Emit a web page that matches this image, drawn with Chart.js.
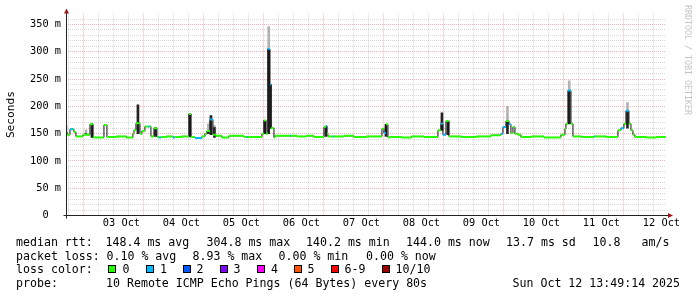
<!DOCTYPE html>
<html>
<head>
<meta charset="utf-8">
<script src="https://cdn.jsdelivr.net/npm/chart.js@4.4.1/dist/chart.umd.min.js"></script>
<style>
  body { margin: 0; background: #fff; }
  #wrap { position: relative; width: 697px; height: 297px; font-family: "DejaVu Sans Mono", monospace; }
  #wrap canvas { position: absolute; left: 0; top: 0; }
  .t { position: absolute; font-size: 11.6px; line-height: 14px; white-space: pre; color: #000; }
  .box { position: absolute; top: 265px; width: 8px; height: 8px; box-sizing: border-box; border: 1px solid #000; }
  #credit { position: absolute; left: 683px; top: 5px; writing-mode: vertical-rl; font-size: 8.3px; line-height: 10px; color: #c4c4c4; white-space: pre; }
</style>
</head>
<body>
<div id="wrap">
  <canvas id="rtt" width="697" height="297"></canvas>

  <div class="t" style="left:16px;top:234.7px">median rtt:</div>
  <div class="t" style="left:105.5px;top:234.7px">148.4 ms avg</div>
  <div class="t" style="left:206.5px;top:234.7px">304.8 ms max</div>
  <div class="t" style="left:306px;top:234.7px">140.2 ms min</div>
  <div class="t" style="left:406px;top:234.7px">144.0 ms now</div>
  <div class="t" style="left:506px;top:234.7px">13.7 ms sd</div>
  <div class="t" style="left:592.5px;top:234.7px">10.8</div>
  <div class="t" style="left:641.5px;top:234.7px">am/s</div>

  <div class="t" style="left:16px;top:248.5px">packet loss:</div>
  <div class="t" style="left:106.5px;top:248.5px">0.10 % avg</div>
  <div class="t" style="left:192.5px;top:248.5px">8.93 % max</div>
  <div class="t" style="left:278.5px;top:248.5px">0.00 % min</div>
  <div class="t" style="left:366px;top:248.5px">0.00 % now</div>

  <div class="t" style="left:16px;top:262.3px">loss color:</div>
  <span class="box" style="left:108px;background:#26ff00"></span><div class="t" style="left:122.5px;top:262.3px">0</div>
  <span class="box" style="left:145.5px;background:#00b8ff"></span><div class="t" style="left:160px;top:262.3px">1</div>
  <span class="box" style="left:182.5px;background:#0059ff"></span><div class="t" style="left:196.5px;top:262.3px">2</div>
  <span class="box" style="left:220px;background:#7e00ff"></span><div class="t" style="left:233.5px;top:262.3px">3</div>
  <span class="box" style="left:256.5px;background:#ff00ff"></span><div class="t" style="left:271px;top:262.3px">4</div>
  <span class="box" style="left:294px;background:#ff5500"></span><div class="t" style="left:307.5px;top:262.3px">5</div>
  <span class="box" style="left:331px;background:#ff0000"></span><div class="t" style="left:344.5px;top:262.3px">6-9</div>
  <span class="box" style="left:381.5px;background:#a00000"></span><div class="t" style="left:395.5px;top:262.3px">10/10</div>

  <div class="t" style="left:16px;top:276px">probe:</div>
  <div class="t" style="left:106px;top:276px">10 Remote ICMP Echo Pings (64 Bytes) every 80s</div>
  <div class="t" style="left:512.5px;top:276px">Sun Oct 12 13:49:14 2025</div>

  <div id="credit">RRDTOOL / TOBI OETIKER</div>
</div>

<script>
// time axis: hours since 02 Oct 00:00
const startHour = 13.82;
const endHour = 253.82;

const dayLabels = ['03 Oct', '04 Oct', '05 Oct', '06 Oct', '07 Oct', '08 Oct', '09 Oct', '10 Oct', '11 Oct', '12 Oct'];
const yLabels = ['0  ', '50 m', '100 m', '150 m', '200 m', '250 m', '300 m', '350 m'];

// median rtt, one entry per change (value holds until the next hour)
const stepHours = [13.8, 14.2, 15.4, 16.6, 17.0, 17.8, 20.6, 23.4, 24.6, 29.0,
  30.2, 34.0, 38.0, 40.6, 41.0, 41.8, 43.4, 44.2, 45.4, 46.6,
  47.2, 47.8, 49.0, 50.2, 51.0, 51.8, 54.0, 56.6, 57.4, 60.0,
  63.0, 63.8, 65.4, 68.2, 69.4, 70.2, 71.4, 72.6, 73.8, 76.2,
  79.0, 85.0, 86.2, 86.6, 92.2, 93.0, 93.8, 94.6, 95.4, 95.8,
  97.0, 97.4, 103.4, 103.8, 106.2, 110.0, 113.0, 117.0, 117.8, 118.2,
  118.6, 120.6, 121.0, 125.0, 129.0, 134.0, 140.2, 141.0, 141.8, 142.6,
  143.4, 148.0, 152.0, 157.0, 162.6, 163.8, 164.6, 165.8, 167.0, 172.0,
  178.0, 183.8, 187.8, 188.6, 189.8, 191.0, 191.8, 192.6, 193.4, 194.6,
  195.8, 200.0, 205.0, 211.8, 213.4, 213.8, 214.6, 215.8, 216.6, 220.0,
  225.0, 225.4, 230.0, 234.6, 235.8, 237.0, 237.8, 239.0, 239.8, 240.6,
  241.4, 246.0, 250.0];
const medianMs = [152, 148, 158, 158, 153, 145, 148, 167, 143, 166,
  144, 145, 143, 150, 156, 169, 150, 155, 163, 163,
  163, 145, 160, 144, 143, 144, 145, 143, 144, 145,
  186, 144, 142, 145, 150, 155, 176, 148, 146, 143,
  146, 144, 144, 144, 150, 174, 150, 305, 240, 160,
  143, 146, 146, 146, 145, 146, 144, 162, 164, 150,
  145, 145, 145, 146, 144, 145, 159, 151, 167, 143,
  144, 143, 145, 144, 156, 168, 148, 173, 145, 144,
  145, 147, 150, 162, 173, 167, 151, 162, 150, 148,
  144, 145, 143, 148, 159, 168, 229, 168, 145, 144,
  145, 145, 144, 156, 160, 168, 192, 168, 156, 148,
  144, 143, 144];
const lossCount = [0, 0, 1, 0, 0, 0, 0, 0, 0, 0,
  0, 0, 0, 0, 0, 0, 0, 0, 0, 1,
  0, 0, 0, 0, 1, 0, 0, 1, 0, 0,
  0, 0, 1, 0, 0, 0, 1, 0, 0, 0,
  0, 0, 1, 0, 0, 0, 0, 1, 1, 0,
  0, 0, 1, 0, 0, 0, 0, 0, 1, 0,
  0, 1, 0, 0, 0, 0, 0, 1, 0, 0,
  0, 0, 0, 0, 0, 1, 1, 0, 0, 0,
  0, 0, 1, 1, 0, 1, 0, 0, 0, 0,
  0, 0, 0, 0, 0, 0, 1, 0, 0, 0,
  1, 0, 0, 0, 1, 0, 1, 0, 0, 0,
  0, 0, 0];

// smoke around the spikes: dense part low..high, sparse part high..top
const smokeHours = [13.9, 21.8, 24.2, 42.6, 49.6, 63.4, 70.8, 71.8, 73.2, 93.4,
  94.9, 95.6, 117.8, 141.8, 164.2, 166.6, 190.4, 215.1, 238.4];
const smokeLow = [148, 148, 143, 150, 145, 144, 150, 148, 143, 150,
  150, 160, 145, 145, 156, 148, 150, 168, 160];
const smokeHigh = [152, 150, 168, 203, 161, 186, 155, 183, 161, 174,
  305, 240, 164, 167, 188, 173, 173, 229, 192];
const smokeTop = [165, 157, null, null, null, null, 168, null, 165, null,
  346, null, null, null, null, null, 200, 247, 207];

const mono = '"DejaVu Sans Mono", monospace';
const minorGrid = 'rgba(175, 175, 175, 0.5)';
const majorGrid = 'rgba(225, 110, 110, 0.5)';

const medianLine = stepHours.map((h, i) => ({ x: h, y: medianMs[i] }));
medianLine.push({ x: endHour, y: medianMs[medianMs.length - 1] });

function lossSegments(n) {
    const pts = [];
    stepHours.forEach((h, i) => {
        if (lossCount[i] !== n) return;
        const next = i + 1 < stepHours.length ? stepHours[i + 1] : endHour;
        pts.push({ x: h, y: medianMs[i] }, { x: next, y: medianMs[i] }, { x: next, y: null });
    });
    return pts;
}

const smokeCore = smokeHours.map((h, i) => ({ x: h, y: [smokeLow[i], smokeHigh[i]] }));
const smokeTail = [];
smokeHours.forEach((h, i) => {
    if (smokeTop[i] !== null) smokeTail.push({ x: h, y: [smokeHigh[i], smokeTop[i]] });
});

// axis lines with rrdtool style arrow heads
const axisArrows = {
    id: 'axisArrows',
    afterDraw(chart) {
        const { ctx, chartArea: a } = chart;
        const x0 = Math.round(a.left) + 0.5;
        const y0 = Math.floor(a.bottom) + 0.5;
        ctx.save();
        ctx.strokeStyle = '#222';
        ctx.lineWidth = 1;
        ctx.beginPath();
        ctx.moveTo(x0, y0 + 3);
        ctx.lineTo(x0, a.top - 1);
        ctx.moveTo(x0 - 3, y0);
        ctx.lineTo(a.right + 2, y0);
        ctx.stroke();
        ctx.fillStyle = '#a01818';
        ctx.beginPath();
        ctx.moveTo(x0, a.top - 5);
        ctx.lineTo(x0 - 2.5, a.top);
        ctx.lineTo(x0 + 2.5, a.top);
        ctx.closePath();
        ctx.fill();
        ctx.beginPath();
        ctx.moveTo(a.right + 7, y0);
        ctx.lineTo(a.right + 2, y0 - 2.5);
        ctx.lineTo(a.right + 2, y0 + 2.5);
        ctx.closePath();
        ctx.fill();
        ctx.restore();
    }
};

new Chart(document.getElementById('rtt'), {
    type: 'line',
    data: {
        datasets: [
            { type: 'line', data: lossSegments(1), borderColor: '#00b8ff', borderWidth: 2, pointRadius: 0, spanGaps: false, order: 0 },
            { type: 'line', data: lossSegments(0), borderColor: '#26ff00', borderWidth: 2, pointRadius: 0, spanGaps: false, order: 1 },
            { type: 'line', data: medianLine, stepped: true, borderColor: '#111', borderWidth: 1, pointRadius: 0, order: 2 },
            { type: 'bar', data: smokeCore, backgroundColor: '#222', barThickness: 2, grouped: false, order: 3 },
            { type: 'bar', data: smokeTail, backgroundColor: '#b2b2b2', barThickness: 2, grouped: false, order: 4 }
        ]
    },
    options: {
        responsive: false,
        animation: false,
        events: [],
        layout: { padding: { top: 13.6, right: 31, left: 0, bottom: 0 } },
        plugins: {
            legend: { display: false },
            tooltip: { enabled: false }
        },
        scales: {
            x: {
                type: 'linear',
                min: startHour,
                max: endHour,
                offset: false,
                afterBuildTicks(scale) {
                    const ticks = [];
                    for (let h = 18; h < endHour; h += 6) ticks.push({ value: h });
                    scale.ticks = ticks;
                },
                afterFit(scale) {
                    scale.height = 81.5;
                    scale.paddingLeft = 0;
                    scale.paddingRight = 0;
                },
                grid: {
                    color: c => (c.tick && c.tick.value % 24 === 0 ? majorGrid : minorGrid),
                    lineWidth: 1,
                    drawTicks: false
                },
                border: { display: false, dash: [1, 1], dashOffset: 0 },
                ticks: {
                    autoSkip: false,
                    maxRotation: 0,
                    padding: 2,
                    color: '#000',
                    font: { family: mono, size: 10.3 },
                    callback: v => (v % 24 === 12 ? dayLabels[(v - 36) / 24] : '')
                }
            },
            y: {
                min: 0,
                max: 370,
                afterBuildTicks(scale) {
                    const ticks = [];
                    for (let v = 0; v <= 360; v += 10) ticks.push({ value: v });
                    scale.ticks = ticks;
                },
                afterFit(scale) {
                    scale.width = 66;
                    scale.paddingTop = 0;
                    scale.paddingBottom = 0;
                },
                grid: {
                    color: c => (c.tick && c.tick.value % 50 === 0 ? majorGrid : minorGrid),
                    lineWidth: 1,
                    drawTicks: false
                },
                border: { display: false, dash: [1, 1], dashOffset: 0 },
                title: {
                    display: true,
                    text: 'Seconds',
                    color: '#000',
                    font: { family: mono, size: 11.2 },
                    padding: { top: 4, bottom: 0 }
                },
                ticks: {
                    autoSkip: false,
                    padding: 5,
                    color: '#000',
                    font: { family: mono, size: 10.3 },
                    callback: v => (v % 50 === 0 ? yLabels[v / 50] : '')
                }
            }
        }
    },
    plugins: [axisArrows]
});
</script>
</body>
</html>
